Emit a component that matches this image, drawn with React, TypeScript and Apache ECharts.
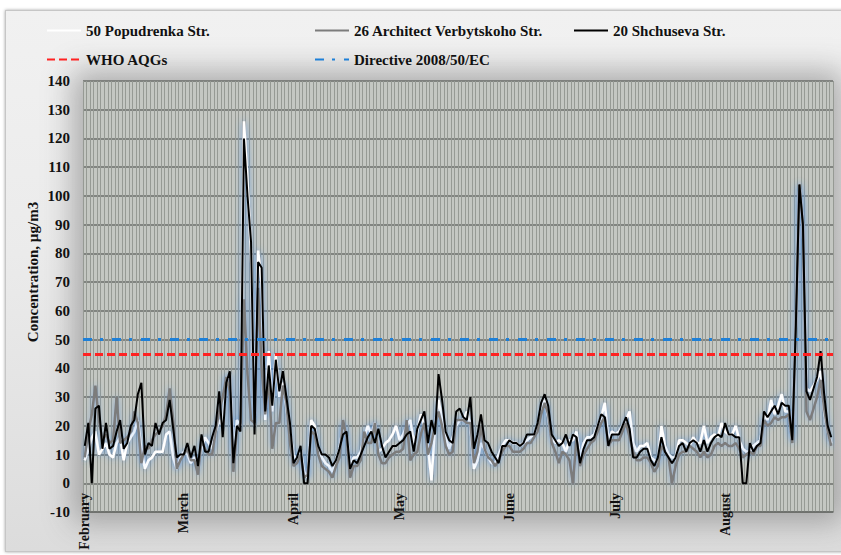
import React, { useEffect, useRef } from "react";
import * as echarts from "echarts";

// ---- categories: one entry per day, February 1 .. August 31 ----
const months = ["February", "March", "April", "May", "June", "July", "August"];
const monthDays = [28, 31, 30, 31, 30, 31, 31];
const categories: string[] = months.flatMap((m, k) =>
  Array.from({ length: monthDays[k] }, (_, d) => `${m} ${d + 1}`)
);

// ---- series values (µg/m3), month by month ----
const popudrenka = [
  // Feb
  8, 12, 16, 18, 10, 12, 14, 10, 9, 14, 16, 8, 14, 16, 18, 22, 12, 5, 8, 9, 11, 11, 11, 17, 18, 9, 5, 9,
  // Mar
  11, 10, 7, 9, 7, 12, 16, 14, 12, 18, 22, 20, 36, 38, 10, 22, 20, 126, 105, 80, 20, 81, 70, 22, 46, 25, 45, 30, 35, 26, 18,
  // Apr
  10, 8, 12, 4, 2, 22, 20, 12, 9, 7, 6, 4, 8, 12, 20, 17, 6, 9, 9, 11, 16, 20, 17, 21, 11, 12, 14, 15, 17, 20,
  // May
  15, 17, 20, 22, 14, 18, 24, 20, 13, 1, 20, 29, 22, 16, 12, 16, 20, 22, 22, 25, 20, 5, 8, 14, 12, 9, 7, 7, 10, 13, 15,
  // Jun
  15, 14, 14, 13, 14, 15, 16, 17, 20, 25, 29, 23, 16, 14, 15, 14, 11, 15, 15, 18, 9, 14, 16, 16, 17, 20, 23, 28, 15, 18,
  // Jul
  17, 18, 20, 22, 25, 14, 11, 13, 13, 14, 9, 8, 7, 20, 13, 10, 9, 9, 15, 15, 14, 13, 16, 14, 14, 20, 14, 16, 17, 16, 21,
  // Aug
  18, 17, 17, 20, 15, 12, 11, 11, 13, 14, 15, 24, 22, 29, 24, 27, 31, 25, 25, 15, 55, 104, 90, 33, 32, 34, 36, 39, 25, 18, 14,
];

const verbytskoho = [
  // Feb
  9, 18, 24, 34, 22, 15, 17, 14, 15, 30, 14, 15, 16, 18, 25, 21, 7, 13, 12, 15, 17, 18, 20, 24, 33, 22, 5, 8,
  // Mar
  10, 12, 8, 8, 3, 15, 12, 10, 10, 18, 25, 30, 37, 32, 4, 18, 21, 64, 38, 22, 21, 68, 40, 24, 37, 12, 21, 21, 34, 28, 14,
  // Apr
  6, 7, 10, 2, 3, 18, 17, 10, 6, 5, 4, 2, 6, 9, 22, 16, 2, 6, 6, 8, 18, 14, 14, 21, 10, 7, 7, 9, 10, 11,
  // May
  11, 12, 22, 8, 10, 11, 17, 21, 10, 14, 20, 25, 20, 13, 10, 11, 22, 22, 22, 21, 21, 7, 11, 20, 12, 9, 8, 6, 8, 11, 13,
  // Jun
  13, 11, 11, 11, 12, 14, 14, 16, 18, 24, 28, 24, 14, 11, 7, 11, 10, 8, 0, 16, 6, 10, 12, 14, 15, 18, 21, 23, 13, 15,
  // Jul
  15, 15, 18, 21, 16, 11, 8, 8, 9, 9, 7, 4, 6, 13, 11, 9, 0, 6, 10, 11, 11, 13, 12, 11, 9, 11, 9, 10, 13, 14, 13,
  // Aug
  14, 13, 13, 14, 12, 9, 10, 11, 10, 13, 13, 22, 20, 21, 23, 22, 23, 23, 24, 14, 55, 104, 90, 25, 22, 26, 30, 36, 26, 18, 13,
];

const shchuseva = [
  // Feb
  13, 21, 0, 26, 27, 12, 21, 12, 13, 18, 22, 12, 14, 20, 22, 31, 35, 10, 14, 13, 21, 17, 21, 22, 29, 19, 9, 10,
  // Mar
  10, 14, 9, 13, 6, 17, 11, 11, 16, 20, 32, 16, 35, 39, 7, 20, 18, 120, 100, 84, 17, 77, 75, 25, 41, 27, 43, 32, 39, 30, 21,
  // Apr
  7, 9, 13, 0, 0, 20, 19, 13, 10, 10, 9, 6, 8, 12, 17, 18, 5, 8, 7, 10, 13, 16, 18, 14, 19, 13, 9, 11, 13, 13,
  // May
  14, 15, 17, 18, 11, 19, 22, 25, 14, 22, 17, 38, 29, 18, 15, 14, 25, 26, 23, 22, 30, 12, 17, 24, 15, 14, 11, 9, 7, 13, 13,
  // Jun
  15, 14, 14, 13, 14, 17, 17, 17, 21, 28, 31, 27, 17, 15, 13, 14, 17, 13, 17, 16, 7, 12, 15, 15, 16, 20, 24, 23, 13, 17,
  // Jul
  17, 17, 20, 23, 19, 9, 9, 11, 12, 12, 8, 6, 9, 16, 11, 9, 7, 9, 13, 14, 11, 14, 15, 14, 11, 15, 11, 14, 16, 17, 16,
  // Aug
  21, 17, 17, 16, 16, 0, 0, 14, 11, 13, 14, 25, 23, 25, 27, 24, 28, 27, 27, 15, 55, 104, 90, 32, 29, 33, 37, 46, 31, 20, 16,
];

// ---- limit values ----
const WHO_LIMIT = 45;
const DIRECTIVE_LIMIT = 50;

// ---- axis ----
const Y_MIN = -10;
const Y_MAX = 140;
const Y_STEP = 10;

const FONT = "'Liberation Serif', 'Times New Roman', serif";
const TEXT_COLOR = "#111111";
const RED = "#ff2222";
const BLUE = "#1e80d8";

export default function App() {
  const ref = useRef<HTMLDivElement>(null);

  useEffect(() => {
    if (!ref.current) return;
    const chart = echarts.init(ref.current, null, { renderer: "svg" });

    const legendText = {
      fontFamily: FONT,
      fontSize: 15,
      fontWeight: "bold" as const,
      color: TEXT_COLOR,
    };
    const legendBase = {
      padding: 0,
      itemWidth: 34,
      itemHeight: 14,
      selectedMode: false,
      itemStyle: { opacity: 0 },
      textStyle: legendText,
    };

    chart.setOption({
      animation: false,
      backgroundColor: "transparent",
      textStyle: { fontFamily: FONT },
      grid: {
        left: 83,
        right: 8,
        top: 81,
        bottom: 43,
        outerBoundsMode: "none",
        containLabel: false,
        show: true,
        backgroundColor: "#c4c7c2",
        borderWidth: 0,
      },
      legend: [
        { ...legendBase, data: ["50 Popudrenka Str."], left: 46, top: 23 },
        { ...legendBase, data: ["26 Architect Verbytskoho Str."], left: 314, top: 23 },
        { ...legendBase, data: ["20 Shchuseva Str."], left: 573, top: 23 },
        { ...legendBase, data: ["WHO AQGs"], left: 46, top: 52 },
        { ...legendBase, data: ["Directive 2008/50/EC"], left: 314, top: 52 },
      ],
      graphic: [
        {
          type: "text",
          x: 33,
          y: 272,
          rotation: Math.PI / 2,
          style: {
            text: "Concentration, µg/m3",
            font: `bold 15px ${FONT}`,
            fill: TEXT_COLOR,
            align: "center",
            verticalAlign: "middle",
          },
        },
      ],
      xAxis: {
        type: "category",
        data: categories,
        boundaryGap: true,
        axisLine: {
          show: true,
          onZero: false,
          lineStyle: { color: "#6b6e6a", width: 1.5 },
        },
        axisTick: { show: false },
        axisLabel: {
          interval: (_index: number, value: string) => value.endsWith(" 1"),
          formatter: (value: string) => value.split(" ")[0],
          rotate: 90,
          margin: -19,
          fontFamily: FONT,
          fontSize: 14,
          fontWeight: "bold",
          color: TEXT_COLOR,
        },
        splitLine: {
          show: true,
          interval: 0,
          lineStyle: { color: "#969a94", width: 1 },
        },
      },
      yAxis: {
        type: "value",
        min: Y_MIN,
        max: Y_MAX,
        interval: Y_STEP,
        axisLine: { show: false },
        axisTick: { show: false },
        axisLabel: {
          margin: 13,
          fontFamily: FONT,
          fontSize: 15,
          fontWeight: "bold",
          color: TEXT_COLOR,
        },
        splitLine: { lineStyle: { color: "#6b6e6a", width: 1.5 } },
      },
      series: [
        {
          name: "50 Popudrenka Str.",
          type: "line",
          data: popudrenka,
          symbol: "none",
          itemStyle: { color: "#ffffff" },
          lineStyle: {
            color: "#ffffff",
            width: 2.5,
            shadowColor: "rgba(70,140,225,0.8)",
            shadowBlur: 7,
          },
        },
        {
          name: "26 Architect Verbytskoho Str.",
          type: "line",
          data: verbytskoho,
          symbol: "none",
          itemStyle: { color: "#7c7c7c" },
          lineStyle: {
            color: "#7c7c7c",
            width: 2.5,
            shadowColor: "rgba(70,140,225,0.5)",
            shadowBlur: 6,
          },
        },
        {
          name: "20 Shchuseva Str.",
          type: "line",
          data: shchuseva,
          symbol: "none",
          itemStyle: { color: "#000000" },
          lineStyle: { color: "#000000", width: 2 },
        },
        {
          name: "WHO AQGs",
          type: "line",
          data: [],
          symbol: "none",
          itemStyle: { color: RED },
          lineStyle: { color: RED, width: 3, type: [8, 4] },
          markLine: {
            silent: true,
            symbol: ["none", "none"],
            label: { show: false },
            lineStyle: { color: RED, width: 3, type: [8, 4] },
            data: [{ yAxis: WHO_LIMIT }],
          },
        },
        {
          name: "Directive 2008/50/EC",
          type: "line",
          data: [],
          symbol: "none",
          itemStyle: { color: BLUE },
          lineStyle: { color: BLUE, width: 3, type: [9, 8, 3, 9] },
          markLine: {
            silent: true,
            symbol: ["none", "none"],
            label: { show: false },
            lineStyle: { color: BLUE, width: 3, type: [9, 8, 3, 9] },
            data: [{ yAxis: DIRECTIVE_LIMIT }],
          },
        },
      ],
    });

    return () => chart.dispose();
  }, []);

  return (
    <div
      style={{
        position: "fixed",
        left: 0,
        top: 0,
        width: 841,
        height: 555,
        background: "#ffffff",
        overflow: "hidden",
      }}
    >
      <div
        style={{
          position: "absolute",
          left: 5,
          top: 10,
          width: 840,
          height: 540,
          background: "linear-gradient(180deg, #f1f1f1 0%, #ebebeb 45%, #dcdcdc 100%)",
          border: "1px solid #c6c6c6",
          boxShadow: "0 0 3px rgba(0,0,0,0.35)",
        }}
      />
      <div
        style={{
          position: "absolute",
          left: 83,
          top: 81,
          width: 750,
          height: 431,
          background: "#c4c7c2",
          boxShadow: "0 0 28px 10px rgba(70,70,70,0.4)",
        }}
      />
      <div
        ref={ref}
        style={{ position: "absolute", left: 0, top: 0, width: 841, height: 555 }}
      />
    </div>
  );
}
